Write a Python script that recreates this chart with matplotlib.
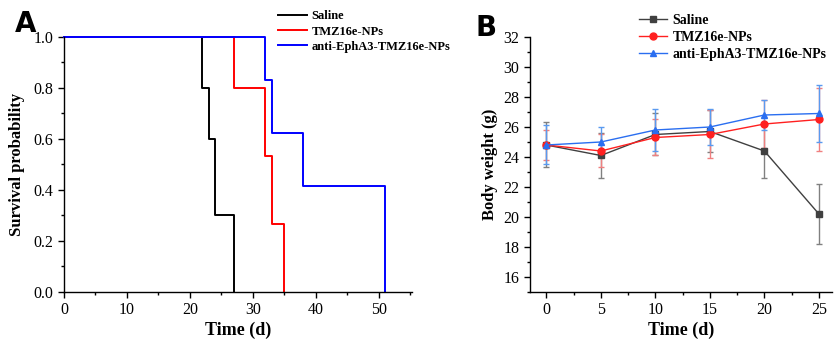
import matplotlib.pyplot as plt
from matplotlib.ticker import MultipleLocator

plt.rcParams['font.family'] = ['Liberation Serif', 'DejaVu Serif']

# survival curves (step data)
saline_t = [0, 22, 23, 24, 27]
saline_s = [1.0, 0.8, 0.6, 0.3, 0.0]
tmz_t = [0, 27, 32, 33, 35]
tmz_s = [1.0, 0.8, 0.533, 0.267, 0.0]
anti_t = [0, 32, 33, 38, 51]
anti_s = [1.0, 0.833, 0.625, 0.417, 0.0]

# body weight
days = [0, 5, 10, 15, 20, 25]
bw_saline = [24.8, 24.1, 25.5, 25.7, 24.4, 20.2]
err_saline = [1.5, 1.5, 1.4, 1.4, 1.8, 2.0]
bw_tmz = [24.8, 24.4, 25.3, 25.5, 26.2, 26.5]
err_tmz = [1.0, 1.1, 1.2, 1.6, 1.6, 2.1]
bw_anti = [24.8, 25.0, 25.8, 26.0, 26.8, 26.9]
err_anti = [1.3, 1.0, 1.4, 1.2, 1.0, 1.9]

labels = ['Saline', 'TMZ16e-NPs', 'anti-EphA3-TMZ16e-NPs']

fig = plt.figure(figsize=(8.35, 3.41), dpi=100)
axA = fig.add_axes([0.0766, 0.1437, 0.4168, 0.7478])
axB = fig.add_axes([0.6347, 0.1437, 0.3617, 0.7478])

for ax in (axA, axB):
    for s in ('top', 'right'):
        ax.spines[s].set_visible(False)
    ax.spines['left'].set_linewidth(1.0)
    ax.spines['bottom'].set_linewidth(1.0)
    ax.tick_params(which='major', direction='out', length=4, width=1, labelsize=11.5)
    ax.tick_params(which='minor', direction='out', length=2, width=1)

# panel A
for t, s, c, lab in [(saline_t, saline_s, 'black', labels[0]),
                     (tmz_t, tmz_s, 'red', labels[1]),
                     (anti_t, anti_s, 'blue', labels[2])]:
    axA.step(t + [t[-1]], s + [s[-1]], where='post', color=c, lw=1.4,
             label=lab, clip_on=False)

axA.set_xlim(0, 55.3)
axA.set_ylim(0, 1.0)
axA.xaxis.set_major_locator(MultipleLocator(10))
axA.xaxis.set_minor_locator(MultipleLocator(5))
axA.yaxis.set_major_locator(MultipleLocator(0.2))
axA.yaxis.set_minor_locator(MultipleLocator(0.1))
axA.yaxis.set_major_formatter(plt.FormatStrFormatter('%.1f'))
axA.set_xlabel('Time (d)', fontsize=13, fontweight='bold', labelpad=2)
axA.set_ylabel('Survival probability', fontsize=12, fontweight='bold', labelpad=6)
axA.legend(loc='upper left', bbox_to_anchor=(0.6, 1.124), frameon=False,
           prop={'weight': 'bold', 'size': 9}, handlelength=2.3,
           handletextpad=0.4, labelspacing=0.25, borderaxespad=0)
fig.text(0.018, 0.905, 'A', fontsize=20, fontweight='bold', family='DejaVu Sans')

# panel B
handles = []
for y, e, c, ec, m, lab in [(bw_saline, err_saline, '#404040', '#808080', 's', labels[0]),
                            (bw_tmz, err_tmz, '#ff2020', '#f08080', 'o', labels[1]),
                            (bw_anti, err_anti, '#2a6ef0', '#5a9af0', '^', labels[2])]:
    cont = axB.errorbar(days, y, yerr=e, color=c, ecolor=ec, marker=m, markersize=5,
                        lw=1.0, elinewidth=1.0, capsize=2.5, capthick=1.0, label=lab)
    handles.append(cont.lines[0])

axB.set_xlim(-1.5, 26.2)
axB.set_ylim(15, 32)
axB.xaxis.set_major_locator(MultipleLocator(5))
axB.xaxis.set_minor_locator(MultipleLocator(2.5))
axB.yaxis.set_major_locator(MultipleLocator(2))
axB.yaxis.set_minor_locator(MultipleLocator(1))
axB.set_xlabel('Time (d)', fontsize=13, fontweight='bold', labelpad=2)
axB.set_ylabel('Body weight (g)', fontsize=12, fontweight='bold', labelpad=4)
axB.legend(handles, labels, loc='upper left', bbox_to_anchor=(0.343, 1.112), frameon=False,
           prop={'weight': 'bold', 'size': 10}, handlelength=2.0,
           handletextpad=0.4, labelspacing=0.3, borderaxespad=0)
fig.text(0.569, 0.895, 'B', fontsize=20, fontweight='bold', family='DejaVu Sans')

fig.savefig('out.png', dpi=100)
